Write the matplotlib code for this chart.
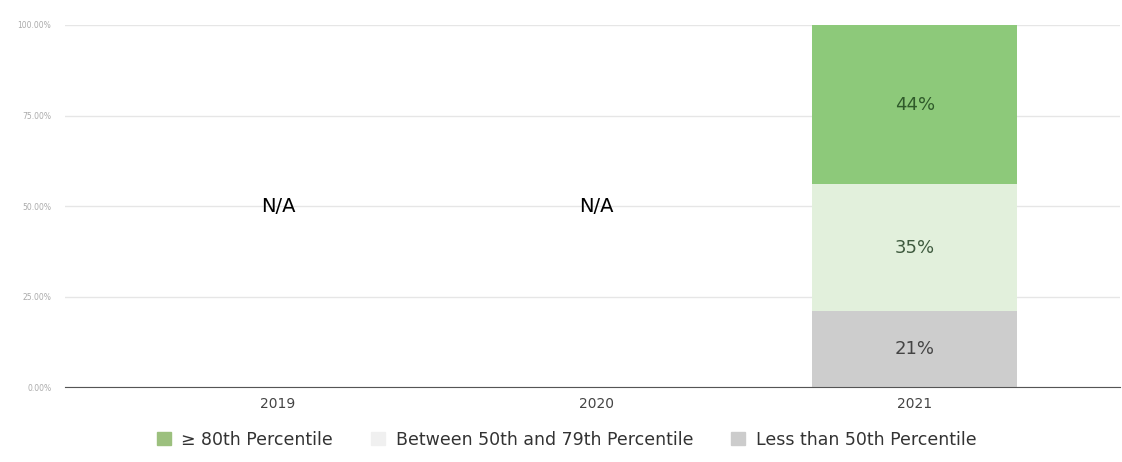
import matplotlib.pyplot as plt
from matplotlib.patches import Patch

# Dati
years = ['2019', '2020', '2021']
less_50 = [None, None, 21]
between_50_79 = [None, None, 35]
above_80 = [None, None, 44]
na_label = 'N/A'

series_names = ['≥ 80th Percentile', 'Between 50th and 79th Percentile', 'Less than 50th Percentile']
colors = {'top': '#8dc97a', 'mid': '#e2f0dc', 'low': '#cdcdcd'}

fig = plt.figure(figsize=(11.22, 4.62), dpi=100)
ax = fig.add_axes([0.058, 0.162, 0.94, 0.784])

x = list(range(len(years)))
width = 0.644

for i, year in enumerate(years):
    if less_50[i] is None:
        ax.text(i, 50, na_label, ha='center', va='center', fontsize=14, color='black')
        continue
    ax.bar(i, less_50[i], width, color=colors['low'], zorder=2)
    ax.bar(i, between_50_79[i], width, bottom=less_50[i], color=colors['mid'], zorder=2)
    ax.bar(i, above_80[i], width, bottom=less_50[i] + between_50_79[i],
           color=colors['top'], zorder=2)
    ax.text(i, less_50[i] / 2, f'{less_50[i]}%', ha='center', va='center',
            fontsize=13, color='#444444', zorder=3)
    ax.text(i, less_50[i] + between_50_79[i] / 2, f'{between_50_79[i]}%', ha='center',
            va='center', fontsize=13, color='#3e5a3e', zorder=3)
    ax.text(i, less_50[i] + between_50_79[i] + above_80[i] / 2, f'{above_80[i]}%',
            ha='center', va='center', fontsize=13, color='#2f5a2a', zorder=3)

ax.set_xlim(-0.669, 2.644)
ax.set_ylim(0, 100)
ax.set_yticks([0, 25, 50, 75, 100])
ax.set_yticklabels(['0.00%', '25.00%', '50.00%', '75.00%', '100.00%'], fontsize=5.5, color='#aaaaaa')
ax.set_xticks(x)
ax.set_xticklabels(years, fontsize=10, color='#444444')
ax.tick_params(axis='both', length=0, pad=7)
ax.tick_params(axis='y', pad=10)

ax.grid(axis='y', color='#e6e6e6', linewidth=1, zorder=0)
for s in ['top', 'right', 'left']:
    ax.spines[s].set_visible(False)
ax.spines['bottom'].set_color('#555555')
ax.spines['bottom'].set_zorder(4)

# Legenda in basso
handles = [Patch(color='#9cc07e'), Patch(color='#f0f0f0'), Patch(color='#cccccc')]
fig.legend(handles, series_names, loc='center', bbox_to_anchor=(0.505, 0.048), ncol=3,
           frameon=False, fontsize=12.5, handlelength=0.8, handleheight=0.8,
           handletextpad=0.6, columnspacing=2.2, labelcolor='#333333')

plt.savefig('out.png')
plt.close()
